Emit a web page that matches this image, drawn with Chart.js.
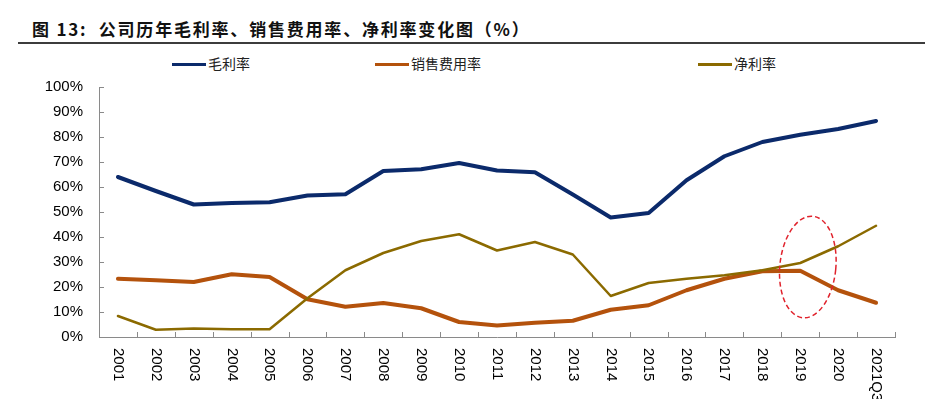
<!DOCTYPE html>
<html>
<head>
<meta charset="utf-8">
<script src="https://cdn.jsdelivr.net/npm/chart.js@4/dist/chart.umd.min.js"></script>
<style>
  body { margin: 0; background: #fff; }
  #wrap { position: relative; width: 925px; height: 399px; overflow: hidden; }
  #title {
    position: absolute; left: 32px; top: 16px; margin: 0;
    font: bold 17px "Noto Sans CJK SC", "Liberation Sans", sans-serif; color: #111;
    letter-spacing: 1.8px; white-space: pre;
  }
  #rule { position: absolute; left: 18px; right: 0; top: 42px; height: 2px; background: #3c3c3c; }
  .leg { position: absolute; top: 53px; font: 14px "Noto Sans CJK SC", sans-serif; color: #222; white-space: nowrap; }
  .leg i { display: inline-block; width: 34px; height: 3px; vertical-align: middle; margin-right: 2px; position: relative; top: -1px; }
  canvas { position: absolute; left: 0; top: 0; }
</style>
</head>
<body>
<div id="wrap">
  <div id="title">图 13:  公司历年毛利率、销售费用率、净利率变化图（%）</div>
  <div id="rule"></div>
  <div id="legend"></div>
  <canvas id="marginChart" width="925" height="399"></canvas>
</div>
<script>
// categories and series (percent)
var years = [
  "2001", "2002", "2003", "2004", "2005", "2006", "2007", "2008", "2009", "2010", "2011",
  "2012", "2013", "2014", "2015", "2016", "2017", "2018", "2019", "2020", "2021Q3"
];
var grossMargin = [64.0, 58.4, 53.0, 53.6, 53.9, 56.6, 57.1, 66.4, 67.1, 69.6, 66.6,
  65.9, 57.0, 47.8, 49.6, 62.7, 72.3, 78.0, 80.9, 83.2, 86.4];
var sellingExpense = [23.3, 22.7, 22.0, 25.1, 24.0, 15.1, 12.1, 13.6, 11.5, 6.0, 4.6,
  5.7, 6.5, 10.9, 12.7, 18.7, 23.3, 26.3, 26.5, 18.7, 13.7];
var netMargin = [8.4, 2.9, 3.4, 3.1, 3.1, 15.5, 26.7, 33.6, 38.4, 41.1, 34.6,
  38.0, 33.0, 16.4, 21.6, 23.3, 24.7, 26.7, 29.6, 36.3, 44.5];
var seriesNames = ["毛利率", "销售费用率", "净利率"];
var yTicks = [0, 10, 20, 30, 40, 50, 60, 70, 80, 90, 100];

var colors = ['#0b2a6b', '#b4520c', '#8b6a00'];
var axisColor = '#8a8a8a';
var labelFont = '15px "Liberation Sans", Arial, sans-serif';

// legend is laid out by hand, items sit at uneven spots like the source
var legendLeft = [172, 375, 698];
var legendEl = document.getElementById('legend');
seriesNames.forEach(function (name, i) {
  var d = document.createElement('div');
  d.className = 'leg';
  d.style.left = legendLeft[i] + 'px';
  d.innerHTML = '<i style="background:' + colors[i] + '"></i>' + name;
  legendEl.appendChild(d);
});

// inside ticks, vertical category labels and the dashed ellipse callout
var axisExtras = {
  id: 'axisExtras',
  afterDraw: function (chart) {
    var ctx = chart.ctx;
    var x = chart.scales.x, y = chart.scales.y;
    var area = chart.chartArea;
    ctx.save();
    ctx.strokeStyle = axisColor;
    ctx.lineWidth = 1;
    ctx.beginPath();
    for (var i = 0; i <= years.length; i++) {
      var px = Math.round(x.getPixelForValue(i - 0.5)) + 0.5;
      ctx.moveTo(px, area.bottom);
      ctx.lineTo(px, area.bottom - 5);
    }
    yTicks.forEach(function (t) {
      var py = Math.round(y.getPixelForValue(t)) + 0.5;
      ctx.moveTo(area.left, py);
      ctx.lineTo(area.left + 5, py);
    });
    ctx.stroke();

    ctx.fillStyle = '#000';
    ctx.font = labelFont;
    ctx.textAlign = 'left';
    ctx.textBaseline = 'middle';
    years.forEach(function (label, i) {
      ctx.save();
      ctx.translate(x.getPixelForValue(i), area.bottom + 11);
      ctx.rotate(Math.PI / 2);
      ctx.fillText(label, 0, 0);
      ctx.restore();
    });
    ctx.restore();
  },
  afterDatasetsDraw: function (chart) {
    var ctx = chart.ctx;
    var x = chart.scales.x, y = chart.scales.y;
    ctx.save();
    ctx.strokeStyle = '#e0222c';
    ctx.lineWidth = 1.5;
    ctx.setLineDash([5, 3]);
    ctx.beginPath();
    ctx.ellipse(x.getPixelForValue(18.2), y.getPixelForValue(28), 28, 51, 0.1, 0, Math.PI * 2);
    ctx.stroke();
    ctx.restore();
  }
};

var ctx = document.getElementById('marginChart').getContext('2d');
var marginChart = new Chart(ctx, {
  type: 'line',
  data: {
    labels: years,
    datasets: [
      { label: seriesNames[0], data: grossMargin, borderColor: colors[0], borderWidth: 4, order: 2 },
      { label: seriesNames[1], data: sellingExpense, borderColor: colors[1], borderWidth: 4, order: 1 },
      { label: seriesNames[2], data: netMargin, borderColor: colors[2], borderWidth: 2.5, order: 0 }
    ]
  },
  options: {
    responsive: false,
    animation: false,
    devicePixelRatio: 1,
    elements: {
      point: { radius: 0, hoverRadius: 0 },
      line: { tension: 0, borderJoinStyle: 'round', borderCapStyle: 'round', fill: false }
    },
    layout: { padding: { left: 0, top: 87, right: 30, bottom: 62 } },
    plugins: { legend: { display: false }, tooltip: { enabled: false } },
    scales: {
      x: {
        type: 'category',
        offset: true,
        grid: { display: false },
        border: { display: true, color: axisColor, width: 1 },
        ticks: { display: false },
        afterFit: function (s) { s.height = 0; }
      },
      y: {
        min: 0,
        max: 100,
        afterBuildTicks: function (s) { s.ticks = yTicks.map(function (v) { return { value: v }; }); },
        grid: { display: false, drawTicks: false },
        border: { display: true, color: axisColor, width: 1 },
        ticks: {
          padding: 16,
          color: '#000',
          font: { family: '"Liberation Sans", Arial, sans-serif', size: 15 },
          callback: function (v) { return v + '%'; }
        },
        afterFit: function (s) { s.width = 99; }
      }
    }
  },
  plugins: [axisExtras]
});
</script>
</body>
</html>
